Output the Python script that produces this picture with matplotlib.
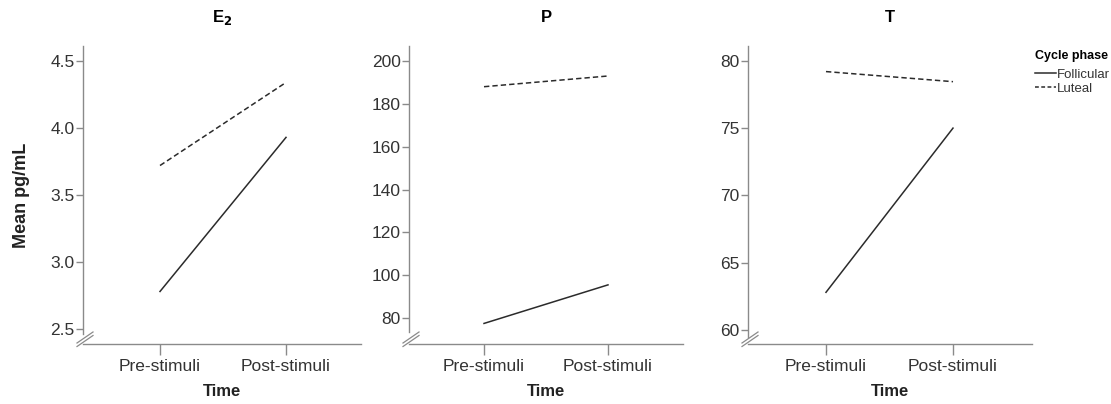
import matplotlib
matplotlib.use("Agg")
import matplotlib.pyplot as plt
from matplotlib.lines import Line2D

plt.rcParams['font.family'] = ['Liberation Sans', 'DejaVu Sans']

times = ["Pre-stimuli", "Post-stimuli"]
phases = ["Follicular", "Luteal"]
titles = ["E$_\\mathbf{2}$", "P", "T"]

e2_follicular = [2.78, 3.93]
e2_luteal = [3.72, 4.34]
p_follicular = [77.5, 95.5]
p_luteal = [188.0, 193.0]
t_follicular = [62.8, 75.0]
t_luteal = [79.2, 78.45]

yticks = [[2.5, 3.0, 3.5, 4.0, 4.5],
          [80, 100, 120, 140, 160, 180, 200],
          [60, 65, 70, 75, 80]]
yticklabels = [["2.5", "3.0", "3.5", "4.0", "4.5"],
               ["80", "100", "120", "140", "160", "180", "200"],
               ["60", "65", "70", "75", "80"]]
ylims = [(2.388, 4.612), (67.9, 207.0), (58.96, 81.1)]
xlims = [(-0.611, 1.595), (-0.605, 1.605), (-0.614, 1.622)]
spine_lows = [2.464, 73.3, 59.5]

data = [(e2_follicular, e2_luteal), (p_follicular, p_luteal), (t_follicular, t_luteal)]
positions = [[83, 361], [409, 683], [748, 1032]]

W, H = 1111, 404
fig = plt.figure(figsize=(W / 100, H / 100), dpi=100)
fig.patch.set_facecolor("white")

line_color = "#2b2b2b"
axis_color = "#8a8a8a"
text_color = "#333333"

for i, (fol, lut) in enumerate(data):
    l, r = positions[i]
    ax = fig.add_axes([l / W, 1 - 344 / H, (r - l) / W, (344 - 46) / H])
    x = list(range(len(times)))
    ax.plot(x, fol, color=line_color, lw=1.1, ls='-', label=phases[0])
    ax.plot(x, lut, color=line_color, lw=1.1, ls=(0, (3.5, 2.0)), label=phases[1])
    ax.set_xlim(*xlims[i])
    ax.set_ylim(*ylims[i])
    ax.set_xticks(x)
    ax.set_xticklabels(times, fontsize=12.5, color=text_color)
    ax.set_yticks(yticks[i])
    ax.set_yticklabels(yticklabels[i], fontsize=12.5, color=text_color)
    for s in ["top", "right"]:
        ax.spines[s].set_visible(False)
    for s in ["left", "bottom"]:
        ax.spines[s].set_color(axis_color)
        ax.spines[s].set_linewidth(1.0)
    ax.spines["left"].set_bounds(spine_lows[i], ylims[i][1])
    ax.tick_params(axis='y', length=5, width=1.0, color=axis_color, pad=1)
    ax.tick_params(axis='x', length=8, width=1.0, color=axis_color, pad=3)
    ax.set_title(titles[i], fontsize=12, fontweight='bold', pad=17)
    ax.set_xlabel("Time", fontsize=12, fontweight='bold', labelpad=7, color="#222222")
    if i == 0:
        ax.set_ylabel("Mean pg/mL", fontsize=13, fontweight='bold', labelpad=15, color="#222222")
    # axis break marks
    aw = r - l
    ah = 298
    for dy in (0, 3.5):
        x0, y0 = -6, 1 - dy
        x1, y1 = 10, 12 - dy
        ax.add_line(Line2D([x0 / aw, x1 / aw], [y0 / ah, y1 / ah], transform=ax.transAxes,
                           color=axis_color, lw=0.9, clip_on=False))

handles = [Line2D([], [], color=line_color, lw=1.1, ls='-'),
           Line2D([], [], color=line_color, lw=1.1, ls=(0, (2.5, 1.6)))]
leg = fig.legend(handles, phases, loc='upper left', bbox_to_anchor=(1032 / W, 1 - 47 / H),
                 frameon=False, fontsize=9.5, title="Cycle phase", handlelength=1.6,
                 handletextpad=0.1, labelspacing=0.15, borderpad=0.2, borderaxespad=0)
leg.get_title().set_fontweight('bold')
leg.get_title().set_fontsize(9)
leg._legend_box.align = "left"
leg._legend_box.sep = 5
for t in leg.get_texts():
    t.set_color(text_color)

fig.savefig("out.png", dpi=100, facecolor="white")
